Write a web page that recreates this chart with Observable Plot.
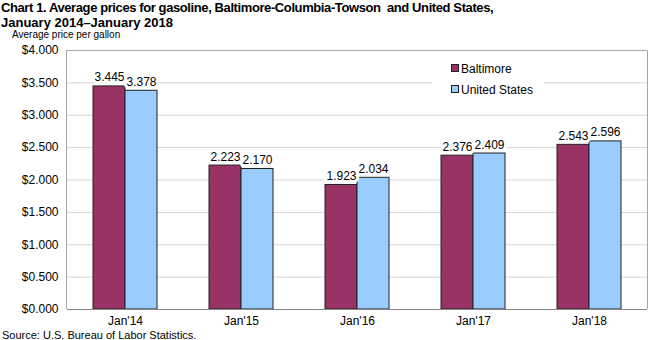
<!DOCTYPE html>
<html>
<head>
<meta charset="utf-8">
<script src="https://cdn.jsdelivr.net/npm/d3@7"></script>
<script src="https://cdn.jsdelivr.net/npm/@observablehq/plot@0.6"></script>
<style>
  html, body { margin: 0; padding: 0; background: #fff; }
  #wrap { position: relative; width: 650px; height: 340px; font-family: Arial, "Liberation Sans", sans-serif; color: #000; overflow: hidden; }
  #title { position: absolute; left: 1px; top: 0px; font-size: 13px; font-weight: bold; line-height: 15px; white-space: nowrap; }
  #title .l1 { letter-spacing: -0.4px; }
  #ylabel { position: absolute; left: 12px; top: 29px; font-size: 10px; line-height: 12px; }
  #chart { position: absolute; left: 0; top: 44px; }
  #source { position: absolute; left: 2px; top: 329px; font-size: 11px; line-height: 12px; }
  #legend { position: absolute; left: 432px; top: 56px; width: 112px; height: 50px; background: #fff; font-size: 12px; }
  .li { position: absolute; left: 19px; height: 14px; line-height: 14px; white-space: nowrap; }
  .sw { display: inline-block; width: 6px; height: 6px; border: 1px solid #222; margin-right: 2px; vertical-align: 1px; }
</style>
</head>
<body>
<div id="wrap">
  <div id="title"><span class="l1">Chart 1. Average prices for gasoline, Baltimore-Columbia-Towson&nbsp; and United States,</span><br>January 2014–January 2018</div>
  <div id="ylabel">Average price per gallon</div>
  <div id="chart"></div>
  <div id="legend"></div>
  <div id="source">Source: U.S. Bureau of Labor Statistics.</div>
</div>
<script>
const months = ["Jan'14", "Jan'15", "Jan'16", "Jan'17", "Jan'18"];
const series = ["Baltimore", "United States"];
const baltimore = [3.445, 2.223, 1.923, 2.376, 2.543];
const unitedStates = [3.378, 2.170, 2.034, 2.409, 2.596];
const colors = ["#993366", "#99ccff"];
const yTicks = [0, 0.5, 1, 1.5, 2, 2.5, 3, 3.5, 4];

const rows = [];
months.forEach((m, i) => {
  rows.push({month: m, series: series[0], value: baltimore[i]});
  rows.push({month: m, series: series[1], value: unitedStates[i]});
});

const W = 650, H = 284;
const mL = 66, mR = 2, mT = 6, mB = 19;

const chart = Plot.plot({
  width: W,
  height: H,
  marginLeft: mL,
  marginRight: mR,
  marginTop: mT,
  marginBottom: mB,
  style: {fontFamily: "Arial, 'Liberation Sans', sans-serif", fontSize: "12px", color: "#000", background: "#fff"},
  fx: {domain: months, padding: 0, label: null, tickSize: 0, tickPadding: 7},
  x: {domain: series, paddingInner: 0, paddingOuter: 0.764, axis: null},
  y: {domain: [0, 4], ticks: yTicks, tickFormat: d => "$" + d.toFixed(3), tickSize: 0, tickPadding: 9, label: null},
  color: {domain: series, range: colors},
  marks: [
    Plot.gridY(yTicks.filter(d => d > 0 && d < 4), {stroke: "#d4d4d4", strokeOpacity: 1}),
    Plot.barY(rows, {fx: "month", x: "series", y: "value", fill: "series", stroke: "#222", strokeWidth: 1, inset: 0}),
    Plot.text(rows, {fx: "month", x: "series", y: "value", text: d => d.value.toFixed(3), lineAnchor: "bottom", dy: -5, fill: "#000", stroke: "#fff", strokeWidth: 6, paintOrder: "stroke", fontSize: 12}),
    Plot.ruleY([0], {stroke: "#888", strokeWidth: 1})
  ]
});

// plot-area border
const ys = chart.scale("y");
const svg = d3.select(chart.tagName.toLowerCase() === "svg" ? chart : chart.querySelector("svg"));
const yTop = ys.apply(4), yBot = ys.apply(0);
svg.append("path")
  .attr("d", `M${mL + 0.5},${yBot}V${yTop + 0.5}H${W - mR - 0.5}V${yBot}`)
  .attr("fill", "none").attr("stroke", "#a6a6a6").attr("stroke-width", 1);

document.getElementById("chart").appendChild(chart);

const legend = document.getElementById("legend");
series.forEach((s, i) => {
  const el = document.createElement("div");
  el.className = "li";
  el.style.top = (6 + i * 21) + "px";
  el.innerHTML = `<span class="sw" style="background:${colors[i]}"></span>${s}`;
  legend.appendChild(el);
});
</script>
</body>
</html>
